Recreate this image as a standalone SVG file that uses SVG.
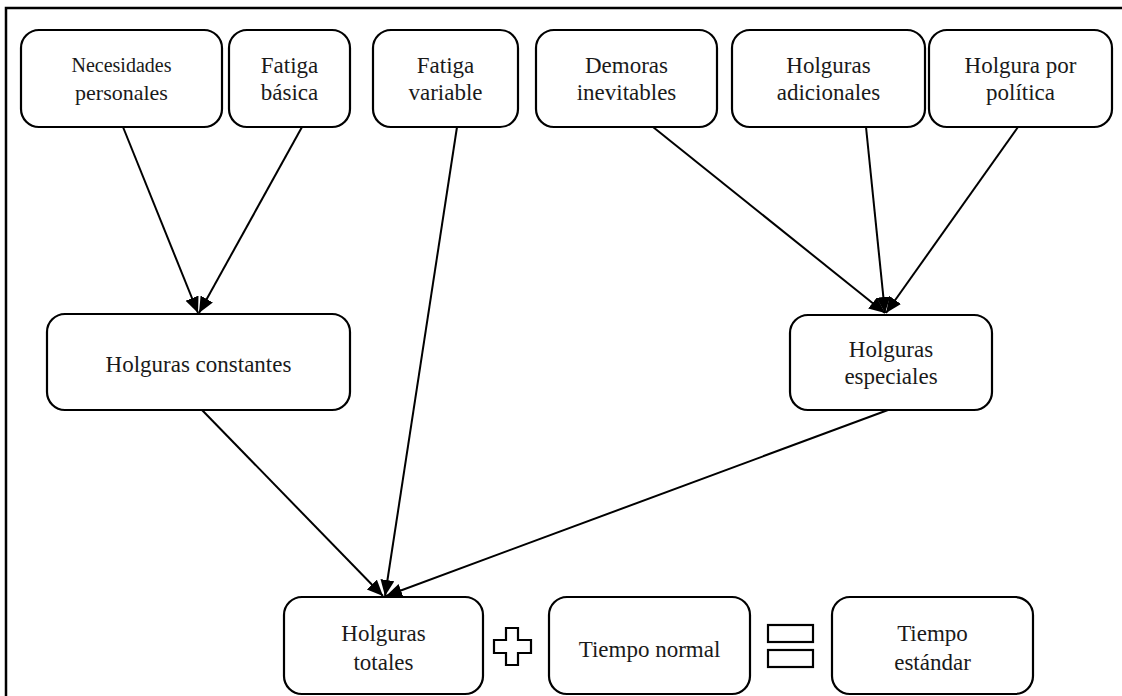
<svg xmlns="http://www.w3.org/2000/svg" width="1122" height="696" viewBox="0 0 1122 696">
<defs>
<style>
.box{fill:#fff;stroke:#000;stroke-width:2.2}
.t{font-family:"Liberation Serif","Times New Roman",serif;font-size:23px;fill:#1a1a1a;text-anchor:middle}
.c{stroke:#000;stroke-width:2;fill:none;marker-end:url(#ah)}
.sym{fill:#fff;stroke:#000;stroke-width:2.2}
</style>
<marker id="ah" markerUnits="userSpaceOnUse" markerWidth="18" markerHeight="16" refX="16" refY="7" orient="auto">
<path d="M0,0 L16,7 L0,14 Z" fill="#000"/>
</marker>
</defs>
<rect width="1122" height="696" fill="#fff"/>
<path d="M6,696 V8 H1122" fill="none" stroke="#000" stroke-width="2.5"/>

<g id="connectors">
<line class="c" x1="123" y1="127" x2="198" y2="313"/>
<line class="c" x1="302" y1="127" x2="199" y2="313"/>
<line class="c" x1="457" y1="127" x2="385" y2="596"/>
<line class="c" x1="202" y1="410" x2="383" y2="596"/>
<line class="c" x1="888" y1="410" x2="386" y2="596"/>
<line class="c" x1="653" y1="127" x2="885" y2="313"/>
<line class="c" x1="866" y1="127" x2="885" y2="313"/>
<line class="c" x1="1018" y1="127" x2="886" y2="313"/>
</g>

<g id="necesidades">
<rect class="box" x="21" y="30" width="201" height="97" rx="18"/>
<text class="t" x="121.5" y="72" style="font-size:20px">Necesidades</text>
<text class="t" x="121.5" y="100" style="font-size:22px">personales</text>
</g>
<g id="fatiga-basica">
<rect class="box" x="229" y="30" width="121" height="97" rx="18"/>
<text class="t" x="289.5" y="73">Fatiga</text>
<text class="t" x="289.5" y="100">básica</text>
</g>
<g id="fatiga-variable">
<rect class="box" x="373" y="30" width="145" height="97" rx="18"/>
<text class="t" x="445.5" y="73">Fatiga</text>
<text class="t" x="445.5" y="100">variable</text>
</g>
<g id="demoras">
<rect class="box" x="536" y="30" width="181" height="97" rx="18"/>
<text class="t" x="626.5" y="73">Demoras</text>
<text class="t" x="626.5" y="100">inevitables</text>
</g>
<g id="adicionales">
<rect class="box" x="732" y="30" width="193" height="97" rx="18"/>
<text class="t" x="828.5" y="73">Holguras</text>
<text class="t" x="828.5" y="100">adicionales</text>
</g>
<g id="politica">
<rect class="box" x="929" y="30" width="183" height="97" rx="18"/>
<text class="t" x="1020.5" y="73">Holgura por</text>
<text class="t" x="1020.5" y="100">política</text>
</g>
<g id="constantes">
<rect class="box" x="47" y="314" width="303" height="96" rx="18"/>
<text class="t" x="198.5" y="372">Holguras constantes</text>
</g>
<g id="especiales">
<rect class="box" x="790" y="315" width="202" height="95" rx="18"/>
<text class="t" x="891" y="357">Holguras</text>
<text class="t" x="891" y="384">especiales</text>
</g>
<g id="totales">
<rect class="box" x="284" y="597" width="199" height="97" rx="18"/>
<text class="t" x="383.5" y="641">Holguras</text>
<text class="t" x="383.5" y="670">totales</text>
</g>
<g id="plus">
<path class="sym" d="M506,628 H518 V640 H531 V653 H518 V665 H506 V653 H494 V640 H506 Z"/>
</g>
<g id="normal">
<rect class="box" x="549" y="597" width="201" height="97" rx="18"/>
<text class="t" x="649.5" y="657">Tiempo normal</text>
</g>
<g id="equals">
<rect class="sym" x="768" y="625" width="45" height="17"/>
<rect class="sym" x="768" y="650" width="45" height="17"/>
</g>
<g id="estandar">
<rect class="box" x="832" y="597" width="201" height="97" rx="18"/>
<text class="t" x="932.5" y="641">Tiempo</text>
<text class="t" x="932.5" y="670">estándar</text>
</g>
</svg>
